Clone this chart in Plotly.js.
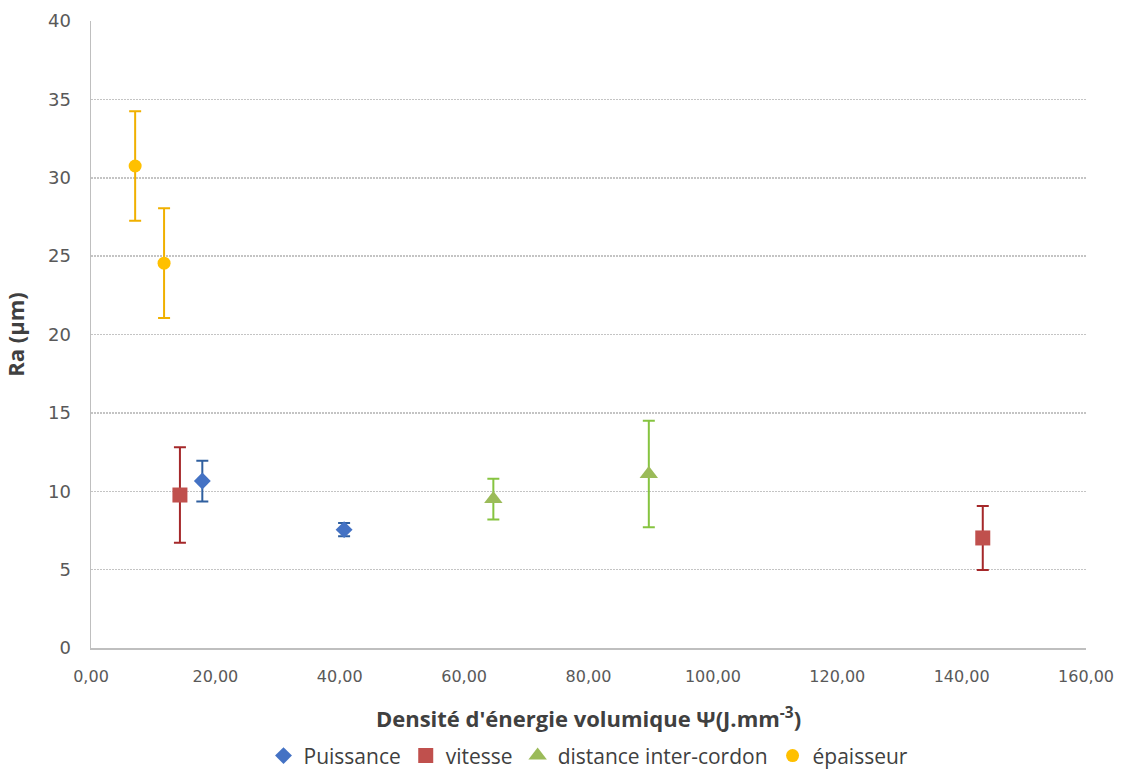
<!DOCTYPE html>
<html>
<head>
<meta charset="utf-8">
<script src="https://cdn.plot.ly/plotly-3.0.1.min.js"></script>
<style>html,body{margin:0;padding:0;background:#fff;}#chart{width:1127px;height:769px;}</style>
</head>
<body>
<div id="chart"></div>
<script>
// Puissance
const puissanceX = [17.9, 40.7];
const puissanceY = [10.65, 7.55];
const puissanceErr = [1.3, 0.42];
// vitesse
const vitesseX = [14.3, 143.4];
const vitesseY = [9.76, 7.02];
const vitesseErr = [3.05, 2.04];
// distance inter-cordon
const distanceX = [64.7, 89.7];
const distanceY = [9.5, 11.1];
const distanceErr = [1.3, 3.4];
// épaisseur
const epaisseurX = [7.1, 11.75];
const epaisseurY = [30.75, 24.55];
const epaisseurErr = [3.5, 3.5];

const seriesNames = ['Puissance', 'vitesse', 'distance inter-cordon', 'épaisseur'];
const yTicks = [0, 5, 10, 15, 20, 25, 30, 35, 40];
const xTicks = [0, 20, 40, 60, 80, 100, 120, 140, 160];

function mk(name, x, y, err, color, errColor, symbol, size) {
  return {
    type: 'scatter', mode: 'markers', name: name, x: x, y: y,
    marker: {color: color, symbol: symbol, size: size, line: {width: 0}},
    error_y: {type: 'data', array: err, visible: true, color: errColor, thickness: 2, width: 6}
  };
}

const data = [
  mk(seriesNames[0], puissanceX, puissanceY, puissanceErr, '#4472c4', '#2f5f9f', 'diamond', 13),
  mk(seriesNames[1], vitesseX, vitesseY, vitesseErr, '#c0504d', '#a5282a', 'square', 15),
  mk(seriesNames[2], distanceX, distanceY, distanceErr, '#9bbb59', '#86c440', 'triangle-up', 16),
  mk(seriesNames[3], epaisseurX, epaisseurY, epaisseurErr, '#ffc000', '#f0b000', 'circle', 13)
];

const layout = {
  width: 1127, height: 769,
  margin: {l: 91, r: 41, t: 21, b: 121, autoexpand: false},
  paper_bgcolor: '#ffffff', plot_bgcolor: '#ffffff',
  separators: ', ',
  font: {family: 'Open Sans, sans-serif', color: '#595959', size: 16},
  showlegend: true,
  legend: {orientation: 'h', x: 0.5, xanchor: 'center', yref: 'container', y: 0.017, yanchor: 'middle',
           font: {size: 21, color: '#404040'}, tracegroupgap: 0},
  xaxis: {
    range: [0, 160], tickvals: xTicks, tickformat: '.2f', automargin: false,
    showgrid: false, zeroline: false, showline: true, linecolor: '#bfbfbf', linewidth: 1.5,
    ticks: '', ticklabelstandoff: 13, tickfont: {family: 'DejaVu Sans, sans-serif', size: 16, color: '#595959'},
    title: {text: "Densité d'énergie volumique Ψ(J.mm<sup>-3</sup>)", font: {size: 22, color: '#404040', weight: 'bold'}, standoff: 27}
  },
  yaxis: {
    range: [0, 40], tickvals: yTicks, automargin: false,
    showgrid: true, gridcolor: '#c4c4c4', griddash: '2px,1px', gridwidth: 1.5,
    zeroline: false, showline: true, linecolor: '#bfbfbf', linewidth: 1.5,
    ticks: '', ticklabelstandoff: 15, tickfont: {family: 'DejaVu Sans, sans-serif', size: 18, color: '#595959'},
    title: {text: 'Ra (µm)', font: {size: 22, color: '#404040', weight: 'bold'}, standoff: 18}
  }
};

Plotly.newPlot('chart', data, layout, {displayModeBar: false, staticPlot: true});
</script>
</body>
</html>
